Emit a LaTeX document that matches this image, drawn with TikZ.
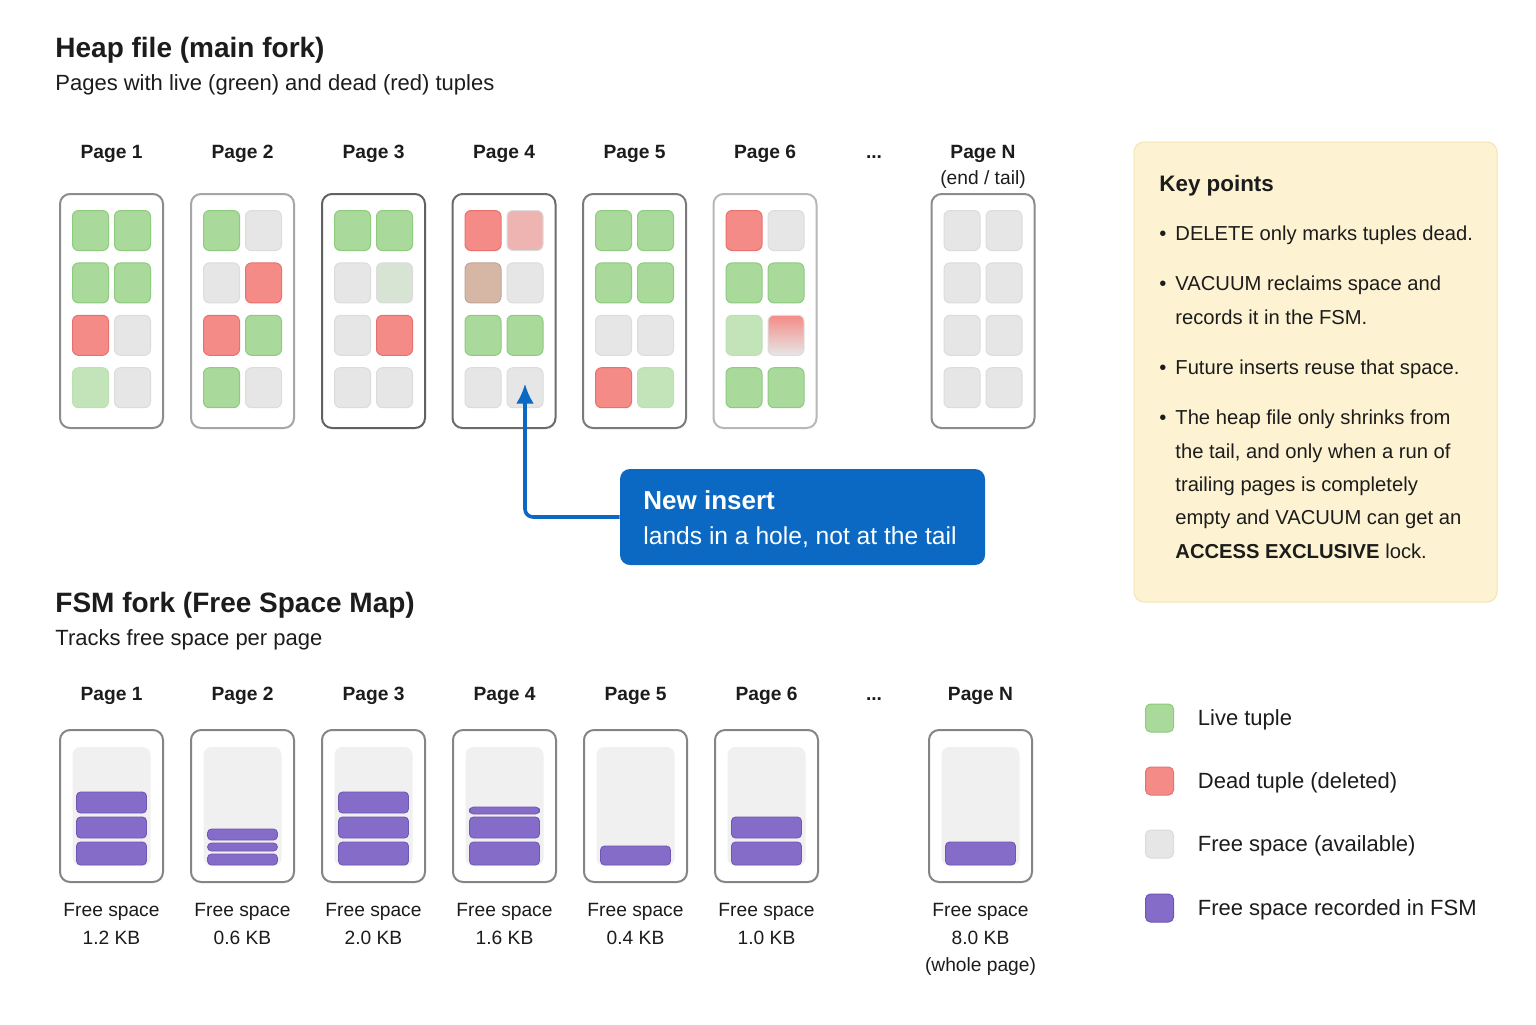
\documentclass[tikz,border=0pt]{standalone}
\usepackage{fontspec}
\setmainfont{Liberation Sans}
\usetikzlibrary{arrows.meta,positioning}

\definecolor{ink}{HTML}{1C1C1C}
\definecolor{livec}{HTML}{A9D99B}
\definecolor{livee}{HTML}{8DCB7E}
\definecolor{deadc}{HTML}{F58B87}
\definecolor{deade}{HTML}{E9716D}
\definecolor{freec}{HTML}{E6E6E6}
\definecolor{freee}{HTML}{DCDCDC}
\definecolor{tanc}{HTML}{D6B7A6}
\definecolor{fsmc}{HTML}{856CC8}
\definecolor{fsme}{HTML}{6E56B4}
\definecolor{fsmbg}{HTML}{F0F0F0}
\definecolor{insertc}{HTML}{0B69C3}
\definecolor{keybg}{HTML}{FDF3D2}
\definecolor{keyedge}{HTML}{F4E4B5}

\begin{document}
\begin{tikzpicture}[x=0.5pt, y=-0.5pt,
    every node/.style={text=ink, inner sep=0pt},
    head/.style={anchor=base west, font=\bfseries\fontsize{14}{17}\selectfont},
    subhead/.style={anchor=base west, font=\fontsize{11}{13}\selectfont},
    pagelbl/.style={anchor=base, font=\bfseries\fontsize{9.6}{12}\selectfont},
    lbl/.style={anchor=base, font=\fontsize{9.6}{12}\selectfont},
    page/.style={draw, line width=1pt, rounded corners=5pt, fill=white,
      minimum width=51.5pt, minimum height=117pt},
    cell/.style={draw, line width=0.5pt, rounded corners=3pt,
      minimum width=18pt, minimum height=20pt},
    live/.style={fill=livec, draw=livee},
    dead/.style={fill=deadc, draw=deade},
    free/.style={fill=freec, draw=freee},
    livepale/.style={fill=livec!70!white, draw=livee!60!white},
    greenish/.style={fill=livec!25!freec, draw=freee},
    deadpale/.style={fill=deadc!55!freec, draw=freee},
    tan/.style={fill=tanc, draw=tanc!90!black},
    deadfade/.style={top color=deadc, bottom color=freec, draw=freee},
    fsm/.style={fill=fsmc, draw=fsme},
    fsmpage/.style={draw=black!48, line width=1pt, rounded corners=5pt,
      minimum width=51.5pt, minimum height=76pt},
    fsmarea/.style={fill=fsmbg, rounded corners=4pt,
      minimum width=39pt, minimum height=59.5pt},
    fsmbar/.style={fsm, line width=0.4pt, rounded corners=2pt},
    callout/.style={fill=insertc, rounded corners=5pt,
      minimum width=182.5pt, minimum height=48pt},
    calltitle/.style={anchor=base west, text=white, font=\bfseries\fontsize{13}{16}\selectfont},
    calltext/.style={anchor=base west, text=white, font=\fontsize{12.3}{15}\selectfont},
    newarrow/.style={draw=insertc, line width=1.8pt, rounded corners=4pt,
      -{Latex[length=10pt,width=9pt]}},
    keybox/.style={fill=keybg, draw=keyedge, line width=0.5pt, rounded corners=5pt,
      minimum width=181.5pt, minimum height=230pt},
    keyhead/.style={anchor=base west, font=\bfseries\fontsize{11.2}{14}\selectfont},
    keytext/.style={anchor=base west, font=\fontsize{10.1}{13}\selectfont},
    swatch/.style={draw, line width=0.5pt, rounded corners=2.5pt,
      minimum width=14pt, minimum height=14pt},
    legtext/.style={anchor=west, yshift=-1pt, font=\fontsize{11}{13}\selectfont}]

  \fill[white] (0,0) rectangle (1536,1024);
  \useasboundingbox (0,0) rectangle (1536,1024);

  % heap file
  \node[head] (heaphead) at (55,57) {Heap file (main fork)};
  \node[subhead] (heapsub) at (55,90) {Pages with live (green) and dead (red) tuples};

  \foreach \i/\cx/\edge/\cells in {
      1/111.5/black!45/{live,live,live,live,dead,free,livepale,free},
      2/242.5/black!35/{live,free,free,dead,dead,live,live,free},
      3/373.5/black!62/{live,live,free,greenish,free,dead,free,free},
      4/504/black!58/{dead,deadpale,tan,free,live,live,free,free},
      5/634.5/black!52/{live,live,live,live,free,free,dead,livepale},
      6/765/black!28/{dead,free,live,live,livepale,deadfade,live,live},
      N/983/black!45/{free,free,free,free,free,free,free,free}} {
    \node[pagelbl] (hl\i) at (\cx,158) {Page \i};
    \node[page, draw=\edge] (h\i) at (\cx,311) {};
    \foreach \kind [count=\k from 0] in \cells {
      \pgfmathtruncatemacro\row{\k/2}
      \pgfmathtruncatemacro\col{mod(\k,2)}
      \node[cell,\kind] (h\i-\k) at ({\cx-21+42*\col},{230.5+52.4*\row}) {};
    }
  }
  \node[pagelbl] (hdots) at (874,158) {...};
  \node[lbl] (tail) at (983,184) {(end / tail)};

  % new insert
  \node[callout] (ins) at (802.5,517) {};
  \node[calltitle] (ins1) at (643,509) {New insert};
  \node[calltext] (ins2) at (643,544) {lands in a hole, not at the tail};
  \draw[newarrow] (ins.west) -| ([yshift=2pt]h4-7.center);

  % free space map
  \node[head] (fsmhead) at (55,612) {FSM fork (Free Space Map)};
  \node[subhead] (fsmsub) at (55,645) {Tracks free space per page};

  \foreach \i/\cx/\kb/\bars in {
      1/111.5/1.2/{792/813,817/838,842/865},
      2/242.5/0.6/{829/840,843/851,854/865},
      3/373.5/2.0/{792/813,817/838,842/865},
      4/504.5/1.6/{807/814,817/838,842/865},
      5/635.5/0.4/{846/865},
      6/766.5/1.0/{817/838,842/865},
      N/980.5/8.0/{842/865}} {
    \node[pagelbl] (fl\i) at (\cx,700) {Page \i};
    \node[fsmpage] (f\i) at (\cx,806) {};
    \node[fsmarea] (fa\i) at (\cx,806.5) {};
    \foreach \t/\b in \bars
      \draw[fsmbar] (\cx-35,\t) rectangle (\cx+35,\b);
    \node[lbl] (fs\i) at (\cx,916) {Free space};
    \node[lbl] (kb\i) at (\cx,944) {\kb\ KB};
  }
  \node[pagelbl] (fdots) at (874,700) {...};
  \node[lbl] (whole) at (980.5,971) {(whole page)};

  % key points
  \node[keybox] (key) at (1315.5,372) {};
  \node[keyhead] (keyt) at (1159,191) {Key points};
  \foreach \y [count=\n] in {240,290,374,424}
    \node[keytext, anchor=base] (bul\n) at (1163,\y) {\textbullet};
  \foreach \y/\t [count=\n] in {
      240/{DELETE only marks tuples dead.},
      290/{VACUUM reclaims space and},
      324/{records it in the FSM.},
      374/{Future inserts reuse that space.},
      424/{The heap file only shrinks from},
      458/{the tail, and only when a run of},
      491/{trailing pages is completely},
      524/{empty and VACUUM can get an},
      558/{\textbf{ACCESS EXCLUSIVE} lock.}}
    \node[keytext] (kp\n) at (1175,\y) {\t};

  % legend
  \foreach \y/\s/\t [count=\n] in {
      718/live/{Live tuple},
      781/dead/{Dead tuple (deleted)},
      844/free/{Free space (available)},
      908/fsm/{Free space recorded in FSM}} {
    \node[swatch,\s] (sw\n) at (1159.5,\y) {};
    \node[legtext, right=11.75pt of sw\n] (lg\n) {\t};
  }
\end{tikzpicture}
\end{document}
